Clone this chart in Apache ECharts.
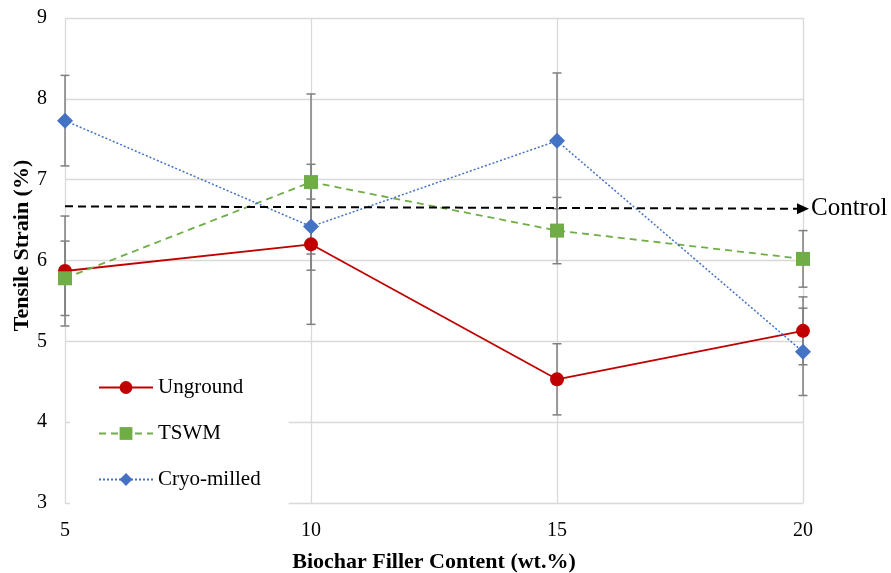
<!DOCTYPE html>
<html>
<head>
<meta charset="utf-8">
<script src="https://cdn.jsdelivr.net/npm/echarts@6/dist/echarts.min.js"></script>
<style>
html, body {margin: 0; padding: 0; background: #fff;}
#chart {width: 891px; height: 573px;}
</style>
</head>
<body>
<div id="chart"></div>
<script>
// values
var fillerContent = [5, 10, 15, 20];
var unground = [5.87, 6.20, 4.53, 5.13];
var ungroundErr = [0.68, 0.99, 0.44, 0.42];
var tswm = [5.78, 6.97, 6.37, 6.02];
var tswmErr = [0.46, 1.09, 0.41, 0.35];
var cryo = [7.73, 6.42, 7.48, 4.87];
var cryoErr = [0.56, 0.34, 0.84, 0.54];
var controlX = [5, 20];
var controlY = [6.67, 6.64];

var serif = '"Liberation Serif", "Times New Roman", serif';

function pairs(ys) {
    return fillerContent.map(function(x, i) { return [x, ys[i]]; });
}
function errData(ys, errs) {
    return fillerContent.map(function(x, i) { return [x, ys[i] - errs[i], ys[i] + errs[i]]; });
}
function errorBars(ys, errs) {
    return {
        type: 'custom',
        z: 1,
        silent: true,
        data: errData(ys, errs),
        renderItem: function(params, api) {
            var lo = api.coord([api.value(0), api.value(1)]);
            var hi = api.coord([api.value(0), api.value(2)]);
            var w = 4.5;
            var st = {stroke: '#7f7f7f', lineWidth: 1.5};
            return {
                type: 'group',
                children: [
                    {type: 'line', shape: {x1: lo[0], y1: lo[1], x2: hi[0], y2: hi[1]}, style: st},
                    {type: 'line', shape: {x1: lo[0] - w, y1: lo[1], x2: lo[0] + w, y2: lo[1]}, style: st},
                    {type: 'line', shape: {x1: hi[0] - w, y1: hi[1], x2: hi[0] + w, y2: hi[1]}, style: st}
                ]
            };
        }
    };
}

var chart = echarts.init(document.getElementById('chart'));
chart.setOption({
    animation: false,
    backgroundColor: '#fff',
    grid: {left: 65, right: 88, top: 18, bottom: 70, containLabel: false, outerBoundsMode: 'none'},
    legend: {
        orient: 'vertical',
        left: 70,
        top: 365,
        data: ['Unground', 'TSWM', 'Cryo-milled'],
        itemWidth: 54,
        itemHeight: 16,
        itemGap: 25,
        padding: [12, 28, 15, 28],
        backgroundColor: '#fff',
        textStyle: {fontFamily: serif, fontSize: 21, color: '#000'}
    },
    xAxis: {
        type: 'value',
        min: 5, max: 20, interval: 5,
        name: 'Biochar Filler Content (wt.%)',
        nameLocation: 'middle',
        nameGap: 48,
        nameTextStyle: {fontFamily: serif, fontSize: 22, fontWeight: 'bold', color: '#000'},
        axisLine: {show: false},
        axisTick: {show: false},
        axisLabel: {fontFamily: serif, fontSize: 20, color: '#000', margin: 18},
        splitLine: {show: true, lineStyle: {color: '#d9d9d9', width: 1.3}}
    },
    yAxis: {
        type: 'value',
        min: 3, max: 9, interval: 1,
        name: 'Tensile Strain (%)',
        nameLocation: 'middle',
        nameGap: 32,
        nameMoveOverlap: false,
        nameTextStyle: {fontFamily: serif, fontSize: 22, fontWeight: 'bold', color: '#000', padding: [0, 0, 0, 30]},
        axisLine: {show: false},
        axisTick: {show: false},
        axisLabel: {fontFamily: serif, fontSize: 20, color: '#000', margin: 18},
        splitLine: {show: true, lineStyle: {color: '#d9d9d9', width: 1.3}}
    },
    series: [
        errorBars(unground, ungroundErr),
        errorBars(tswm, tswmErr),
        errorBars(cryo, cryoErr),
        {
            name: 'Control',
            type: 'line',
            z: 2,
            silent: true,
            data: [],
            markLine: {
                silent: true,
                symbol: ['none', 'triangle'],
                symbolSize: [11, 12],
                lineStyle: {color: '#000', type: [8, 5], width: 2},
                label: {
                    show: true,
                    position: 'end',
                    formatter: 'Control',
                    distance: 8,
                    fontFamily: serif, fontSize: 25, color: '#000'
                },
                data: [[
                    {coord: [controlX[0], controlY[0]]},
                    {coord: [controlX[1], controlY[1]]}
                ]]
            }
        },
        {
            name: 'Unground',
            type: 'line',
            z: 3,
            data: pairs(unground),
            symbol: 'circle',
            symbolSize: 14,
            itemStyle: {color: '#c00000'},
            lineStyle: {color: '#c00000', width: 1.8}
        },
        {
            name: 'TSWM',
            type: 'line',
            z: 3,
            data: pairs(tswm),
            symbol: 'rect',
            symbolSize: 14,
            itemStyle: {color: '#70ad47'},
            lineStyle: {color: '#70ad47', width: 1.8, type: [7, 5]}
        },
        {
            name: 'Cryo-milled',
            type: 'line',
            z: 3,
            data: pairs(cryo),
            symbol: 'diamond',
            symbolSize: 16,
            itemStyle: {color: '#4472c4'},
            lineStyle: {color: '#4472c4', width: 1.5, type: [2, 2]}
        }
    ]
});
</script>
</body>
</html>
